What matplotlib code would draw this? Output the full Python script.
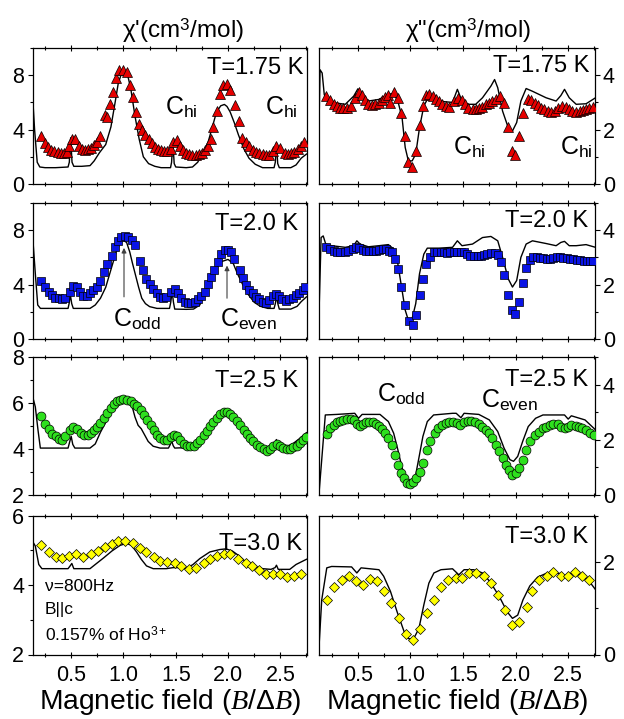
import matplotlib
matplotlib.use("Agg")
import matplotlib.pyplot as plt
import matplotlib.ticker as mticker

plt.rcParams['font.family'] = ['Liberation Sans', 'DejaVu Sans']
plt.rcParams['mathtext.fontset'] = 'custom'
plt.rcParams['mathtext.rm'] = 'Liberation Sans'
plt.rcParams['mathtext.it'] = 'Liberation Serif:italic'
plt.rcParams['mathtext.bf'] = 'Liberation Sans:bold'

# ---- chi' (real part) -------------------------------------------------------
re175_x = [0.21, 0.25, 0.28, 0.31, 0.34, 0.37, 0.40, 0.43, 0.46, 0.475, 0.51, 0.54, 0.57, 0.60,
           0.63, 0.66, 0.69, 0.72, 0.75, 0.78, 0.82, 0.84, 0.87, 0.90, 0.93, 0.96, 1.00, 1.03,
           1.06, 1.09, 1.12, 1.15, 1.18, 1.21, 1.24, 1.27, 1.30, 1.33, 1.36, 1.39, 1.42, 1.45,
           1.475, 1.51, 1.54, 1.57, 1.60, 1.63, 1.66, 1.69, 1.72, 1.75, 1.78, 1.81, 1.84, 1.86,
           1.89, 1.925, 1.955, 1.99, 2.02, 2.065, 2.10, 2.135, 2.17, 2.205, 2.24, 2.27, 2.30,
           2.33, 2.36, 2.395, 2.43, 2.46, 2.50, 2.54, 2.57, 2.60, 2.63, 2.665, 2.70, 2.73]
re175_y = [3.5, 3.0, 2.7, 2.5, 2.4, 2.35, 2.3, 2.3, 2.35, 2.8, 3.3, 3.3, 2.8, 2.6,
           2.5, 2.55, 2.65, 2.85, 3.1, 3.5, 5.1, 4.9, 5.9, 6.8, 7.8, 8.35, 8.4, 8.2,
           7.3, 6.4, 5.3, 4.4, 4.0, 3.6, 3.3, 3.0, 2.75, 2.6, 2.5, 2.4, 2.4, 2.6,
           3.1, 3.2, 2.8, 2.5, 2.3, 2.2, 2.15, 2.15, 2.2, 2.3, 2.5, 2.8, 3.3, 4.2,
           5.4, 6.6, 7.3, 7.35, 6.9, 5.8, 4.6, 3.4, 3.1, 2.8, 2.5, 2.35, 2.25,
           2.18, 2.1, 2.1, 2.4, 2.8, 2.67, 2.3, 2.23, 2.25, 2.35, 2.55, 2.8, 3.08]
re175_fit_x = [0.13, 0.15, 0.175, 0.20, 0.25, 0.35, 0.47, 0.482, 0.495, 0.508, 0.525, 0.60, 0.68,
               0.72, 0.77, 0.83, 0.88, 0.92, 0.95, 0.98, 1.01, 1.04, 1.07, 1.11, 1.15, 1.19, 1.24,
               1.30, 1.36, 1.45, 1.46, 1.472, 1.485, 1.50, 1.60, 1.66, 1.71, 1.76, 1.81, 1.85,
               1.89, 1.93, 1.965, 1.99, 2.02, 2.06, 2.10, 2.15, 2.20, 2.26, 2.33, 2.44, 2.452,
               2.462, 2.475, 2.49, 2.60, 2.65, 2.70, 2.75]
re175_fit_y = [6.6, 4.0, 1.6, 1.25, 1.2, 1.2, 1.25, 1.6, 3.4, 1.6, 1.3, 1.3, 1.35,
               1.7, 2.3, 2.9, 4.2, 6.0, 7.4, 8.1, 8.2, 8.0, 7.0, 5.0, 3.3, 2.0, 1.5,
               1.3, 1.2, 1.2, 1.6, 3.1, 1.5, 1.25, 1.2, 1.25, 1.6, 2.3, 3.1, 4.2,
               5.3, 5.75, 5.85, 5.7, 5.3, 4.5, 3.6, 2.6, 1.9, 1.45, 1.2, 1.2, 1.6,
               3.0, 1.5, 1.2, 1.2, 1.4, 1.9, 2.2]

re20_x = [0.211, 0.25, 0.284, 0.316, 0.348, 0.38, 0.41, 0.443, 0.484, 0.516, 0.554, 0.586, 0.617,
          0.65, 0.68, 0.713, 0.744, 0.776, 0.814, 0.846, 0.887, 0.92, 0.95, 0.98, 1.014, 1.046,
          1.078, 1.11, 1.157, 1.19, 1.22, 1.25, 1.284, 1.316, 1.348, 1.38, 1.41, 1.45, 1.49,
          1.52, 1.554, 1.586, 1.617, 1.65, 1.68, 1.713, 1.744, 1.776, 1.81, 1.84, 1.87, 1.90,
          1.935, 1.967, 2.0, 2.03, 2.06, 2.11, 2.14, 2.17, 2.205, 2.236, 2.27, 2.30, 2.33,
          2.363, 2.395, 2.43, 2.46, 2.49, 2.52, 2.554, 2.586, 2.617, 2.65, 2.68, 2.713, 2.74]
re20_y = [4.27, 3.83, 3.47, 3.22, 3.05, 2.98, 2.91, 3.05, 3.47, 3.88, 3.83, 3.47, 3.15,
          3.15, 3.35, 3.59, 3.83, 4.27, 4.92, 5.48, 6.13, 6.74, 7.22, 7.47, 7.54, 7.47,
          7.27, 6.9, 5.77, 5.04, 4.44, 4.02, 3.64, 3.35, 3.1, 3.05, 3.1, 3.47, 3.64,
          3.35, 2.98, 2.74, 2.67, 2.67, 2.74, 2.91, 3.15, 3.47, 4.02, 4.56, 5.04, 5.65,
          6.25, 6.55, 6.55, 6.38, 5.89, 5.04, 4.5, 3.95, 3.59, 3.35, 3.1, 2.91, 2.74,
          2.67, 2.86, 3.15, 3.3, 3.15, 2.91, 2.81, 2.91, 3.05, 3.22, 3.39, 3.59, 3.83]
re20_fit_x = [0.13, 0.157, 0.18, 0.206, 0.30, 0.47, 0.48, 0.492, 0.505, 0.52, 0.68, 0.73, 0.78,
              0.83, 0.88, 0.93, 0.97, 1.0, 1.03, 1.06, 1.085, 1.115, 1.145, 1.175, 1.21, 1.25,
              1.32, 1.44, 1.452, 1.465, 1.478, 1.49, 1.60, 1.67, 1.73, 1.78, 1.83, 1.88, 1.94,
              2.0, 2.05, 2.09, 2.14, 2.19, 2.25, 2.31, 2.38, 2.44, 2.452, 2.464, 2.476, 2.49,
              2.60, 2.66, 2.70, 2.75]
re20_fit_y = [7.7, 4.8, 2.5, 2.25, 2.25, 2.25, 2.6, 3.25, 2.6, 2.25, 2.25, 2.5, 3.0,
              3.8, 5.1, 6.4, 7.1, 7.25, 7.1, 6.4, 5.6, 4.7, 3.8, 3.0, 2.6, 2.38,
              2.25, 2.25, 2.7, 3.5, 2.7, 2.2, 2.18, 2.2, 2.5, 3.4, 4.4, 5.1, 5.7,
              5.85, 5.55, 4.8, 4.0, 3.3, 2.7, 2.4, 2.25, 2.25, 2.6, 3.15, 2.6, 2.2,
              2.2, 2.4, 2.75, 3.1]

re25_x = [0.214, 0.25, 0.284, 0.316, 0.35, 0.38, 0.41, 0.443, 0.49, 0.52, 0.56, 0.59, 0.624,
          0.656, 0.687, 0.72, 0.75, 0.78, 0.814, 0.846, 0.878, 0.91, 0.94, 0.97, 1.0, 1.036,
          1.07, 1.10, 1.13, 1.164, 1.195, 1.227, 1.26, 1.29, 1.32, 1.354, 1.386, 1.417, 1.45,
          1.48, 1.51, 1.544, 1.576, 1.61, 1.64, 1.67, 1.70, 1.735, 1.767, 1.80, 1.83, 1.86,
          1.894, 1.925, 1.957, 1.99, 2.02, 2.05, 2.084, 2.116, 2.15, 2.18, 2.21, 2.24, 2.275,
          2.306, 2.34, 2.37, 2.40, 2.43, 2.465, 2.497, 2.53, 2.56, 2.59, 2.62, 2.655, 2.687,
          2.72, 2.745]
re25_y = [5.42, 5.1, 4.88, 4.66, 4.55, 4.44, 4.41, 4.56, 4.81, 4.95, 4.85, 4.71, 4.59,
          4.59, 4.71, 4.81, 4.95, 5.13, 5.35, 5.56, 5.78, 5.97, 6.07, 6.15, 6.16, 6.15,
          6.09, 5.97, 5.87, 5.68, 5.49, 5.24, 5.03, 4.81, 4.62, 4.47, 4.4, 4.4, 4.52,
          4.62, 4.55, 4.37, 4.23, 4.12, 4.11, 4.15, 4.27, 4.41, 4.59, 4.78, 4.98, 5.17,
          5.35, 5.51, 5.61, 5.61, 5.53, 5.39, 5.2, 5.03, 4.84, 4.66, 4.49, 4.33, 4.18,
          4.08, 3.98, 3.93, 3.98, 4.12, 4.23, 4.15, 4.04, 3.98, 4.01, 4.08, 4.15, 4.27,
          4.41, 4.52]
re25_fit_x = [0.13, 0.157, 0.183, 0.205, 0.30, 0.47, 0.485, 0.50, 0.515, 0.535, 0.68, 0.73,
              0.78, 0.84, 0.905, 0.95, 1.0, 1.046, 1.08, 1.11, 1.14, 1.17, 1.205, 1.236,
              1.284, 1.35, 1.43, 1.448, 1.46, 1.475, 1.49, 1.54, 1.60, 1.66, 1.73, 1.79,
              1.857, 1.92, 1.98, 2.03, 2.077, 2.14, 2.205, 2.27, 2.33, 2.39, 2.44, 2.462,
              2.478, 2.495, 2.55, 2.62, 2.68, 2.75]
re25_fit_y = [6.3, 5.83, 4.81, 4.04, 4.04, 4.04, 4.3, 4.55, 4.2, 4.04, 4.04, 4.22,
              4.73, 5.24, 5.75, 6.04, 6.16, 6.12, 5.9, 5.39, 5.03, 4.88, 4.59, 4.33,
              4.12, 4.04, 4.04, 4.2, 4.37, 4.15, 4.04, 4.05, 4.04, 4.12, 4.37, 4.76,
              5.17, 5.49, 5.68, 5.64, 5.43, 5.03, 4.59, 4.3, 4.12, 4.08, 4.18, 4.41,
              4.2, 4.08, 4.08, 4.23, 4.44, 4.71]

re30_x = [0.214, 0.284, 0.35, 0.41, 0.475, 0.548, 0.617, 0.687, 0.76, 0.824, 0.887, 0.95,
          1.014, 1.087, 1.157, 1.22, 1.29, 1.354, 1.417, 1.49, 1.554, 1.627, 1.697, 1.767,
          1.83, 1.894, 1.957, 2.02, 2.094, 2.167, 2.23, 2.294, 2.363, 2.427, 2.497, 2.56,
          2.633, 2.697]
re30_y = [5.15, 4.96, 4.81, 4.77, 4.83, 4.9, 4.81, 4.88, 4.98, 5.09, 5.19, 5.26,
          5.26, 5.2, 5.07, 4.95, 4.81, 4.69, 4.66, 4.62, 4.55, 4.45, 4.5, 4.64,
          4.76, 4.83, 4.9, 4.88, 4.76, 4.64, 4.55, 4.43, 4.31, 4.31, 4.31, 4.24,
          4.26, 4.33]
re30_fit_x = [0.13, 0.157, 0.19, 0.22, 0.47, 0.49, 0.506, 0.525, 0.68, 0.73, 0.81, 0.89,
              0.967, 1.03, 1.077, 1.125, 1.17, 1.22, 1.284, 1.41, 1.475, 1.54, 1.60, 1.665,
              1.73, 1.825, 1.92, 1.98, 2.04, 2.11, 2.17, 2.236, 2.33, 2.41, 2.45, 2.463,
              2.48, 2.59, 2.65, 2.75]
re30_fit_y = [5.26, 5.12, 4.59, 4.47, 4.47, 4.55, 4.62, 4.47, 4.47, 4.59, 4.78, 4.98,
              5.14, 5.2, 5.14, 4.95, 4.74, 4.55, 4.47, 4.47, 4.5, 4.5, 4.47, 4.59,
              4.76, 4.95, 5.02, 5.04, 4.98, 4.83, 4.66, 4.55, 4.47, 4.45, 4.5, 4.57,
              4.45, 4.45, 4.59, 4.74]

# ---- chi'' (imaginary part) -------------------------------------------------
im175_x = [0.194, 0.236, 0.268, 0.30, 0.33, 0.36, 0.395, 0.436, 0.475, 0.506, 0.538, 0.57,
           0.60, 0.634, 0.666, 0.70, 0.73, 0.755, 0.787, 0.81, 0.84, 0.88, 0.914, 0.95,
           0.98, 1.016, 1.054, 1.086, 1.118, 1.15, 1.18, 1.213, 1.245, 1.27, 1.30, 1.334,
           1.37, 1.41, 1.45, 1.49, 1.52, 1.55, 1.59, 1.62, 1.65, 1.685, 1.716, 1.75, 1.78,
           1.81, 1.85, 1.89, 1.93, 1.965, 1.997, 2.035, 2.067, 2.115, 2.146, 2.18, 2.21,
           2.24, 2.27, 2.305, 2.34, 2.37, 2.40, 2.44, 2.475, 2.506, 2.54, 2.576, 2.61, 2.64,
           2.67, 2.70, 2.735]
im175_y = [3.23, 3.07, 2.95, 2.87, 2.80, 2.78, 2.80, 2.87, 3.15, 3.39, 3.29, 3.07,
           2.95, 2.90, 2.93, 2.99, 3.07, 3.2, 3.27, 2.99, 3.39, 3.17, 2.62, 1.77,
           0.82, 0.61, 1.2, 2.17, 2.87, 3.27, 3.32, 3.23, 3.11, 3.05, 2.95, 2.87,
           2.83, 3.05, 3.15, 3.07, 2.93, 2.80, 2.77, 2.77, 2.8, 2.83, 2.93, 2.99, 3.05,
           3.13, 3.23, 2.99, 2.1, 1.22, 1.07, 1.77, 2.62, 3.11, 3.07, 2.99, 2.90,
           2.80, 2.74, 2.68, 2.66, 2.68, 2.78, 2.87, 2.83, 2.74, 2.68, 2.66, 2.68, 2.71,
           2.74, 2.78, 2.83]
im175_fit_x = [0.13, 0.14, 0.16, 0.18, 0.20, 0.25, 0.38, 0.46, 0.50, 0.54, 0.60, 0.70, 0.79,
               0.84, 0.88, 0.92, 0.95, 0.98, 1.016, 1.05, 1.086, 1.127, 1.16, 1.25, 1.40,
               1.446, 1.49, 1.55, 1.62, 1.685, 1.765, 1.80, 1.83, 1.876, 1.93, 1.97, 2.01,
               2.05, 2.10, 2.16, 2.29, 2.385, 2.43, 2.465, 2.51, 2.576, 2.67, 2.76]
im175_fit_y = [2.1, 4.2, 4.08, 3.29, 3.11, 3.0, 2.93, 3.23, 3.5, 3.23, 3.05, 3.11, 3.3,
               3.33, 3.05, 2.44, 1.34, 0.85, 0.85, 1.1, 2.07, 2.87, 3.11, 3.05, 3.0,
               3.48, 3.05, 2.93, 2.93, 3.17, 3.6, 3.84, 3.54, 2.68, 2.07, 1.95, 2.26,
               3.05, 3.51, 3.41, 3.17, 3.05, 3.25, 3.48, 3.17, 2.93, 2.95, 3.17]

im20_x = [0.194, 0.236, 0.268, 0.30, 0.33, 0.373, 0.41, 0.45, 0.48, 0.513, 0.545, 0.576,
          0.61, 0.64, 0.67, 0.70, 0.736, 0.768, 0.80, 0.825, 0.85, 0.88, 0.914, 0.95, 0.984,
          1.02, 1.054, 1.09, 1.12, 1.15, 1.19, 1.22, 1.255, 1.29, 1.32, 1.35, 1.38, 1.41,
          1.446, 1.48, 1.51, 1.54, 1.57, 1.605, 1.64, 1.67, 1.70, 1.73, 1.765, 1.80, 1.83,
          1.86, 1.89, 1.93, 1.965, 1.997, 2.03, 2.067, 2.10, 2.14, 2.17, 2.20, 2.23, 2.26,
          2.30, 2.33, 2.36, 2.39, 2.42, 2.455, 2.49, 2.52, 2.55, 2.58, 2.615, 2.646, 2.68,
          2.71, 2.74]
im20_y = [3.37, 3.31, 3.25, 3.21, 3.19, 3.19, 3.25, 3.31, 3.37, 3.34, 3.27, 3.25,
          3.22, 3.22, 3.25, 3.27, 3.31, 3.31, 3.25, 3.19, 2.94, 2.58, 1.93, 1.24, 0.67,
          0.53, 0.88, 1.6, 2.19, 2.74, 3.03, 3.19, 3.21, 3.21, 3.19, 3.16, 3.19, 3.21,
          3.21, 3.19, 3.19, 3.12, 3.06, 3.04, 3.04, 3.06, 3.1, 3.12, 3.15, 3.15, 3.1,
          2.82, 2.37, 1.6, 1.06, 0.91, 1.36, 2.05, 2.61, 2.91, 3.0, 3.0, 2.98, 2.97,
          2.94, 2.94, 2.97, 3.0, 3.0, 2.98, 2.97, 2.94, 2.94, 2.92, 2.91, 2.88, 2.88,
          2.86, 2.86]
im20_fit_x = [0.13, 0.15, 0.17, 0.194, 0.25, 0.38, 0.46, 0.49, 0.52, 0.60, 0.70, 0.79, 0.84,
              0.88, 0.92, 0.95, 0.98, 1.016, 1.05, 1.086, 1.127, 1.16, 1.27, 1.40, 1.446,
              1.49, 1.59, 1.685, 1.765, 1.83, 1.876, 1.93, 1.97, 2.01, 2.05, 2.10, 2.16, 2.29,
              2.385, 2.43, 2.465, 2.51, 2.576, 2.67, 2.76]
im20_fit_y = [0.94, 3.73, 3.79, 3.49, 3.43, 3.37, 3.43, 3.61, 3.49, 3.39, 3.43, 3.47, 3.31,
              2.76, 1.79, 1.06, 0.69, 0.75, 1.3, 2.4, 3.12, 3.34, 3.34, 3.37, 3.61,
              3.43, 3.49, 3.73, 3.77, 3.61, 3.0, 2.21, 1.91, 2.15, 3.0, 3.49, 3.61, 3.51,
              3.43, 3.55, 3.59, 3.43, 3.43, 3.47, 3.37]

im25_x = [0.204, 0.236, 0.268, 0.30, 0.33, 0.363, 0.395, 0.43, 0.46, 0.49, 0.52, 0.55, 0.58,
          0.61, 0.64, 0.67, 0.70, 0.73, 0.76, 0.79, 0.82, 0.85, 0.88, 0.91, 0.94, 0.97, 1.0,
          1.025, 1.054, 1.086, 1.12, 1.16, 1.19, 1.23, 1.264, 1.30, 1.334, 1.37, 1.40, 1.44,
          1.47, 1.51, 1.55, 1.58, 1.615, 1.65, 1.685, 1.716, 1.75, 1.78, 1.81, 1.845, 1.876,
          1.91, 1.94, 1.97, 2.0, 2.035, 2.067, 2.10, 2.137, 2.18, 2.22, 2.26, 2.29, 2.33,
          2.36, 2.40, 2.43, 2.465, 2.50, 2.53, 2.57, 2.60, 2.634, 2.67, 2.71, 2.745]
im25_y = [2.2, 2.42, 2.54, 2.63, 2.68, 2.72, 2.74, 2.74, 2.70, 2.58, 2.50, 2.58, 2.66,
          2.66, 2.64, 2.58, 2.50, 2.40, 2.26, 2.06, 1.80, 1.45, 1.10, 0.80, 0.60, 0.45, 0.41,
          0.48, 0.62, 0.85, 1.16, 1.64, 1.94, 2.24, 2.42, 2.54, 2.6, 2.63, 2.66, 2.6,
          2.54, 2.66, 2.68, 2.68, 2.63, 2.56, 2.48, 2.36, 2.24, 2.06, 1.82, 1.58, 1.34,
          1.1, 0.92, 0.74, 0.8, 0.98, 1.28, 1.64, 1.94, 2.16, 2.3, 2.42, 2.48, 2.54,
          2.57, 2.56, 2.48, 2.42, 2.48, 2.54, 2.51, 2.48, 2.42, 2.34, 2.24, 2.16]
im25_fit_x = [0.13, 0.19, 0.30, 0.47, 0.506, 0.54, 0.71, 0.79, 0.84, 0.88, 0.92, 0.97, 1.01,
              1.05, 1.08, 1.118, 1.16, 1.22, 1.40, 1.435, 1.48, 1.51, 1.65, 1.75, 1.83, 1.89,
              1.946, 1.98, 2.02, 2.067, 2.12, 2.19, 2.26, 2.465, 2.50, 2.53, 2.66, 2.76]
im25_fit_y = [0.05, 2.9, 2.92, 2.96, 2.78, 2.92, 2.92, 2.66, 2.24, 1.64, 0.98, 0.56, 0.48,
              0.74, 1.34, 2.12, 2.66, 2.9, 2.96, 2.96, 2.8, 2.96, 2.92, 2.72, 2.3, 1.7,
              1.28, 1.22, 1.4, 1.94, 2.48, 2.78, 2.9, 2.9, 2.75, 2.87, 2.72, 2.36]

im30_x = [0.204, 0.277, 0.347, 0.417, 0.48, 0.548, 0.618, 0.68, 0.745, 0.815, 0.89, 0.96,
          1.025, 1.086, 1.16, 1.223, 1.287, 1.36, 1.43, 1.49, 1.56, 1.627, 1.70, 1.77,
          1.828, 1.90, 1.965, 2.035, 2.105, 2.156, 2.226, 2.296, 2.36, 2.433, 2.497, 2.567,
          2.634, 2.70]
im30_y = [1.18, 1.45, 1.61, 1.69, 1.59, 1.51, 1.63, 1.58, 1.38, 1.12, 0.78, 0.45,
          0.31, 0.54, 0.89, 1.18, 1.45, 1.61, 1.65, 1.65, 1.75, 1.76, 1.7, 1.54,
          1.29, 0.96, 0.63, 0.71, 1.02, 1.38, 1.61, 1.7, 1.77, 1.7, 1.69, 1.77,
          1.7, 1.6]
im30_fit_x = [0.13, 0.156, 0.204, 0.25, 0.44, 0.49, 0.53, 0.70, 0.745, 0.81, 0.873, 0.94,
              0.984, 1.03, 1.08, 1.127, 1.175, 1.223, 1.29, 1.40, 1.46, 1.51, 1.60, 1.685,
              1.76, 1.845, 1.92, 1.97, 2.02, 2.07, 2.135, 2.21, 2.29, 2.42, 2.48, 2.53, 2.62,
              2.70, 2.76]
im30_fit_y = [0.16, 1.18, 1.87, 1.9, 1.89, 1.76, 1.87, 1.83, 1.69, 1.36, 0.92, 0.49,
              0.34, 0.34, 0.56, 1.07, 1.54, 1.76, 1.83, 1.85, 1.72, 1.83, 1.83, 1.76,
              1.56, 1.25, 0.92, 0.78, 0.85, 1.18, 1.48, 1.67, 1.75, 1.75, 1.69, 1.75, 1.72,
              1.58, 1.4]

temps = ['T=1.75 K', 'T=2.0 K', 'T=2.5 K', 'T=3.0 K']

# marker style per temperature
styles = [dict(marker='^', ms=7.4, mfc='#e60000'),
          dict(marker='s', ms=6.2, mfc='#0a14e6'),
          dict(marker='o', ms=6.4, mfc='#2ee01e'),
          dict(marker='D', ms=5.4, mfc='#ffff00')]

real_sets = [(re175_x, re175_y, re175_fit_x, re175_fit_y),
             (re20_x, re20_y, re20_fit_x, re20_fit_y),
             (re25_x, re25_y, re25_fit_x, re25_fit_y),
             (re30_x, re30_y, re30_fit_x, re30_fit_y)]
imag_sets = [(im175_x, im175_y, im175_fit_x, im175_fit_y),
             (im20_x, im20_y, im20_fit_x, im20_fit_y),
             (im25_x, im25_y, im25_fit_x, im25_fit_y),
             (im30_x, im30_y, im30_fit_x, im30_fit_y)]

real_ylims = [(0, 10), (0, 10), (2, 8), (2, 6)]
real_major = [4, 4, 2, 2]
real_minor = [2, 2, 1, 1]
imag_ylims = [(0, 5), (0, 5), (0, 5), (0, 3)]

W, H = 624, 719
rows_px = [(48, 184), (203, 339), (357, 495), (515.5, 654.5)]
left_px = (32.5, 307)
right_px = (319, 595)

# label positions (x, y in axes fraction) of the temperature tags
t_pos_left = [(0.988, 0.81), (0.967, 0.805), (0.967, 0.78), (0.982, 0.755)]
t_pos_right = [(0.978, 0.82), (0.975, 0.82), (0.975, 0.79), (0.975, 0.80)]

fig = plt.figure(figsize=(W / 100, H / 100), dpi=100)


def make_ax(xpx, ypx):
    x0, x1 = xpx
    y0, y1 = ypx
    return fig.add_axes([x0 / W, 1 - y1 / H, (x1 - x0) / W, (y1 - y0) / H])


def style_x(ax, bottom_row):
    ax.set_xlim(0.13, 2.755)
    ax.xaxis.set_major_locator(mticker.MultipleLocator(0.5))
    ax.xaxis.set_minor_locator(mticker.MultipleLocator(0.25))
    ax.xaxis.set_major_formatter(mticker.FormatStrFormatter('%.1f'))
    ax.tick_params(axis='x', which='both', direction='inout', top=True, bottom=True,
                   labelsize=15.5, pad=5, width=0.8)
    ax.tick_params(axis='x', which='major', length=5)
    ax.tick_params(axis='x', which='minor', length=3.5)
    if not bottom_row:
        ax.tick_params(axis='x', labelbottom=False)


for i in range(4):
    # chi' column
    ax = make_ax(left_px, rows_px[i])
    px, py, fx, fy = real_sets[i]
    ax.plot(fx, fy, color='black', lw=1.0, zorder=2)
    ax.plot(px, py, ls='none', mec='black', mew=0.5, zorder=3, **styles[i])
    style_x(ax, i == 3)
    ax.set_ylim(*real_ylims[i])
    ax.yaxis.set_major_locator(mticker.MultipleLocator(real_major[i]))
    ax.yaxis.set_minor_locator(mticker.MultipleLocator(real_minor[i]))
    ax.tick_params(axis='y', which='both', direction='out', left=True, right=False,
                   labelsize=15.5, pad=2.5, width=0.8)
    ax.tick_params(axis='y', which='major', length=3.5)
    ax.tick_params(axis='y', which='minor', length=2.5)
    ax.text(*t_pos_left[i], temps[i], transform=ax.transAxes, ha='right', va='baseline',
            fontsize=17)
    for s in ax.spines.values():
        s.set_linewidth(0.9)

    if i == 0:
        ax.text(0.55, 1.075, "χ'(cm$^3$/mol)", transform=ax.transAxes, ha='center',
                va='baseline', fontsize=17.5)
        ax.text(1.395, 5.1, r'C$_{\mathrm{hi}}$', fontsize=18, ha='left', va='baseline')
        ax.text(2.35, 5.1, r'C$_{\mathrm{hi}}$', fontsize=18, ha='left', va='baseline')
    if i == 1:
        ax.text(0.90, 0.95, r'C$_{\mathrm{odd}}$', fontsize=18, ha='left', va='baseline')
        ax.text(1.92, 0.95, r'C$_{\mathrm{even}}$', fontsize=18, ha='left', va='baseline')
        arrow = dict(arrowstyle='-|>', color='#404040', lw=0.8, mutation_scale=7,
                     shrinkA=0, shrinkB=0)
        ax.annotate('', xy=(1.005, 6.7), xytext=(1.005, 3.1), arrowprops=arrow)
        ax.annotate('', xy=(1.99, 5.4), xytext=(1.99, 3.0), arrowprops=arrow)
    if i == 3:
        ax.text(0.25, 3.83, 'ν=800Hz', fontsize=12.5, ha='left', va='baseline')
        ax.text(0.25, 3.16, 'B||c', fontsize=12.5, ha='left', va='baseline')
        ax.text(0.25, 2.38, '0.157% of Ho$^{3+}$', fontsize=12.5, ha='left', va='baseline')
        ax.set_xlabel(r'Magnetic field ($B/\Delta B$)', fontsize=20.3, labelpad=1)

    # chi'' column
    ax = make_ax(right_px, rows_px[i])
    px, py, fx, fy = imag_sets[i]
    ax.plot(fx, fy, color='black', lw=1.0, zorder=2)
    ax.plot(px, py, ls='none', mec='black', mew=0.5, zorder=3, **styles[i])
    style_x(ax, i == 3)
    ax.set_ylim(*imag_ylims[i])
    ax.yaxis.set_major_locator(mticker.MultipleLocator(2))
    ax.yaxis.set_minor_locator(mticker.MultipleLocator(1))
    ax.yaxis.tick_right()
    ax.tick_params(axis='y', which='both', direction='out', left=False, right=True,
                   labelleft=False, labelright=True, labelsize=15.5, pad=2, width=0.8)
    ax.tick_params(axis='y', which='major', length=3.5)
    ax.tick_params(axis='y', which='minor', length=2.5)
    ax.text(*t_pos_right[i], temps[i], transform=ax.transAxes, ha='right', va='baseline',
            fontsize=17)
    for s in ax.spines.values():
        s.set_linewidth(0.9)

    if i == 0:
        ax.text(0.54, 1.075, 'χ"(cm$^3$/mol)', transform=ax.transAxes, ha='center',
                va='baseline', fontsize=17.5)
        ax.text(1.40, 1.07, r'C$_{\mathrm{hi}}$', fontsize=18, ha='left', va='baseline')
        ax.text(2.42, 1.07, r'C$_{\mathrm{hi}}$', fontsize=18, ha='left', va='baseline')
    if i == 2:
        ax.text(0.68, 3.38, r'C$_{\mathrm{odd}}$', fontsize=18, ha='left', va='baseline')
        ax.text(1.67, 3.17, r'C$_{\mathrm{even}}$', fontsize=18, ha='left', va='baseline')
    if i == 3:
        ax.set_xlabel(r'Magnetic field ($B/\Delta B$)', fontsize=20.3, labelpad=1)

fig.savefig('out.png', dpi=100)
